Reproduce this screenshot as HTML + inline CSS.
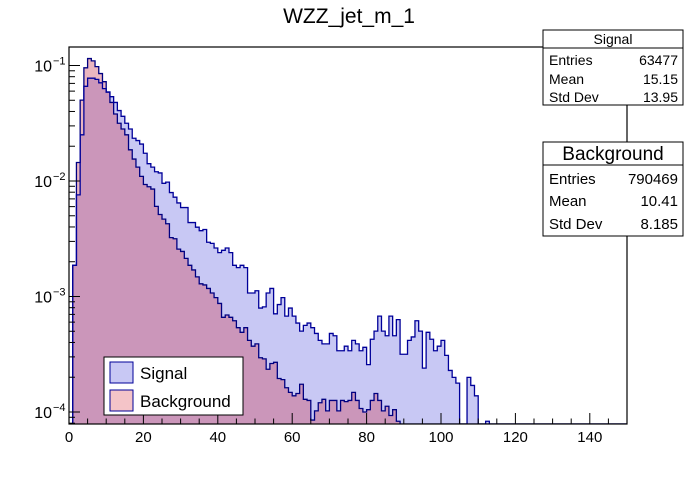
<!DOCTYPE html>
<html><head><meta charset="utf-8"><style>
html,body{margin:0;padding:0;background:#fff;}
svg text{font-family:"Liberation Sans",Arial,sans-serif;}
</style></head><body>
<svg id="chart" width="696" height="472" viewBox="0 0 696 472" xmlns="http://www.w3.org/2000/svg">
<defs>
<clipPath id="plotClip"><rect x="69" y="47" width="558" height="377"/></clipPath>
</defs>
<text x="349" y="23" font-size="21" text-anchor="middle" fill="#000">WZZ_jet_m_1</text>
<g id="hist" clip-path="url(#plotClip)"></g>
<rect x="69" y="47" width="558" height="377" fill="none" stroke="#000" stroke-width="1.2"/>
<g id="axes"></g>

<g>
<rect x="104" y="357" width="139" height="58" fill="#fff" stroke="#000" stroke-width="1"/>
<g>
<rect x="110" y="362" width="23" height="21" fill="#c8c8f4" stroke="#000099" stroke-width="1"/>
<text x="140" y="379" font-size="17">Signal</text></g>
<g>
<rect x="110" y="390" width="23" height="21" fill="#f4c4c8" stroke="#000099" stroke-width="1"/>
<text x="140" y="407" font-size="17">Background</text></g>
</g>

<g>
<rect x="543" y="30" width="140" height="75" fill="#fff" stroke="#000" stroke-width="1"/>
<line x1="543" y1="48" x2="683" y2="48" stroke="#000"/>
<text x="613" y="44" font-size="14" text-anchor="middle">Signal</text>
<text x="549" y="65" font-size="14">Entries</text><text x="678" y="65" font-size="14" text-anchor="end">63477</text>
<text x="549" y="84" font-size="14">Mean</text><text x="678" y="84" font-size="14" text-anchor="end">15.15</text>
<text x="549" y="102" font-size="14">Std Dev</text><text x="678" y="102" font-size="14" text-anchor="end">13.95</text>
</g>
<g>
<rect x="543" y="142" width="140" height="94" fill="#fff" stroke="#000" stroke-width="1"/>
<line x1="543" y1="165" x2="683" y2="165" stroke="#000"/>
<text x="613" y="160" font-size="19" text-anchor="middle">Background</text>
<text x="549" y="184" font-size="15">Entries</text><text x="678" y="184" font-size="15" text-anchor="end">790469</text>
<text x="549" y="206" font-size="15">Mean</text><text x="678" y="206" font-size="15" text-anchor="end">10.41</text>
<text x="549" y="229" font-size="15">Std Dev</text><text x="678" y="229" font-size="15" text-anchor="end">8.185</text>
</g>
</svg>
<script>
// log10 of normalized bin content, bins of width 1 starting at 0 (null = empty)
const backgroundLog10 = [null,-2.73,-1.84,-1.30,-1.02,-0.94,-0.96,-1.01,-1.07,-1.14,
-1.23,-1.32,-1.42,-1.50,-1.55,-1.60,-1.73,-1.81,-1.88,-1.96,
-2.03,-2.05,-2.07,-2.22,-2.29,-2.33,-2.37,-2.49,-2.50,-2.59,
-2.61,-2.67,-2.73,-2.77,-2.83,-2.89,-2.90,-2.93,-2.97,-3.01,
-3.06,-3.18,-3.16,-3.18,-3.21,-3.27,-3.31,-3.27,-3.38,-3.43,
-3.41,-3.53,-3.54,-3.63,-3.58,-3.57,-3.71,-3.72,-3.79,-3.83,
-3.86,-3.84,-3.76,-3.89,-3.90,-4.07,-3.99,-3.92,-3.89,-3.99,
-3.90,-3.90,-3.99,-3.90,-3.91,-3.90,-3.83,-3.90,-3.97,-4.00,
-3.98,-3.90,-3.84,-3.90,-3.99,-3.95,-4.03,-3.98,-4.08];
const signalLog10 = [null,-2.73,-2.12,-1.60,-1.18,-1.11,-1.11,-1.12,-1.15,-1.20,
-1.23,-1.27,-1.32,-1.39,-1.44,-1.50,-1.55,-1.63,-1.65,-1.68,
-1.76,-1.85,-1.88,-1.92,-1.93,-2.02,-2.01,-2.10,-2.14,-2.19,
-2.23,-2.23,-2.36,-2.36,-2.40,-2.43,-2.42,-2.53,-2.54,-2.58,
-2.62,-2.60,-2.58,-2.62,-2.73,-2.75,-2.73,-2.75,-2.97,-2.97,
-2.95,-3.10,-3.09,-2.97,-2.93,-3.15,-3.07,-3.01,-3.17,-3.10,
-3.17,-3.23,-3.30,-3.25,-3.23,-3.27,-3.32,-3.38,-3.41,-3.41,
-3.32,-3.34,-3.47,-3.47,-3.43,-3.47,-3.38,-3.41,-3.47,-3.44,
-3.59,-3.37,-3.30,-3.17,-3.30,-3.34,-3.17,-3.34,-3.20,-3.50,
-3.50,-3.38,-3.35,-3.21,-3.30,-3.62,-3.31,-3.37,-3.47,-3.43,
-3.38,-3.51,-3.64,-3.70,-3.75,null,null,-3.70,-3.77,-3.86,
null,null,-4.08];
const xTickLabels = ["0","20","40","60","80","100","120","140"];
const yDecades = [-1,-2,-3,-4];
const nBins = 150, xMin = 0, xMax = 150;

const NS = "http://www.w3.org/2000/svg";
const PL = 69, PR = 627, PT = 47, PB = 424;
function xS(v){ return PL + (v - xMin) / (xMax - xMin) * (PR - PL); }
function yS(l){ return 65.5 + (-1 - l) * 115.5; }
function yClamp(l){ if (l === null || l === undefined) return PB; return Math.max(PT - 2, Math.min(PB, yS(l))); }

function stepPath(arr){
  let d = "M" + xS(0) + "," + PB;
  for (let i = 0; i < nBins; i++){
    const y = yClamp(arr[i]);
    d += " L" + xS(i) + "," + y + " L" + xS(i + 1) + "," + y;
  }
  d += " L" + xS(nBins) + "," + PB;
  return d;
}
const hist = document.getElementById("hist");
function addPath(d, fill, op, stroke, name){
  const p = document.createElementNS(NS, "path");
  p.setAttribute("d", d);
  p.setAttribute("fill", fill);
  p.setAttribute("fill-opacity", op);
  p.setAttribute("stroke", stroke);
  p.setAttribute("stroke-width", "1.3");
  
  
  hist.appendChild(p);
}
const sigD = stepPath(signalLog10), bgD = stepPath(backgroundLog10);
addPath(sigD + " Z", "#c8c8f4", "1", "none", "signal-fill");
addPath(bgD + " Z", "#d05068", "0.42", "none", "background-fill");
addPath(bgD, "none", "1", "#000080", "background-line");
addPath(sigD, "none", "1", "#000099", "signal-line");

const axes = document.getElementById("axes");
function line(x1, y1, x2, y2, name){
  const l = document.createElementNS(NS, "line");
  l.setAttribute("x1", x1); l.setAttribute("y1", y1);
  l.setAttribute("x2", x2); l.setAttribute("y2", y2);
  l.setAttribute("stroke", "#000"); l.setAttribute("stroke-width", "1");
  
  
  axes.appendChild(l);
}
for (let v = 0; v <= 150; v += 5){
  const major = v % 20 === 0;
  line(xS(v), PB, xS(v), PB - (major ? 11 : 5.5), major ? "x-major-tick" : "x-minor-tick");
}
xTickLabels.forEach(function(s){
  const t = document.createElementNS(NS, "text");
  t.setAttribute("x", xS(Number(s)));
  t.setAttribute("y", 442);
  t.setAttribute("font-size", "15");
  t.setAttribute("text-anchor", "middle");
  t.textContent = s;
  
  
  axes.appendChild(t);
});
yDecades.forEach(function(e){
  line(PL, yS(e), PL + 11, yS(e), "y-major-tick");
  for (let m = 2; m <= 9; m++){
    const y = yS(e + Math.log10(m));
    if (y >= PT && y <= PB) line(PL, y, PL + 6, y, "y-minor-tick");
  }
  if (e === -4){
    for (let m = 9; m >= 8; m--){
      const y = yS(-5 + Math.log10(m));
      if (y >= PT && y <= PB) line(PL, y, PL + 6, y, "y-minor-tick");
    }
  }
  const t = document.createElementNS(NS, "text");
  t.setAttribute("x", 52);
  t.setAttribute("y", yS(e) + 6);
  t.setAttribute("font-size", "16");
  t.setAttribute("text-anchor", "end");
  t.textContent = "10";
  
  
  axes.appendChild(t);
  const s = document.createElementNS(NS, "text");
  s.setAttribute("x", 53);
  s.setAttribute("y", yS(e) - 1);
  s.setAttribute("font-size", "11");
  s.textContent = "\u2212" + (-e);
  
  
  axes.appendChild(s);
});
</script>
</body></html>
